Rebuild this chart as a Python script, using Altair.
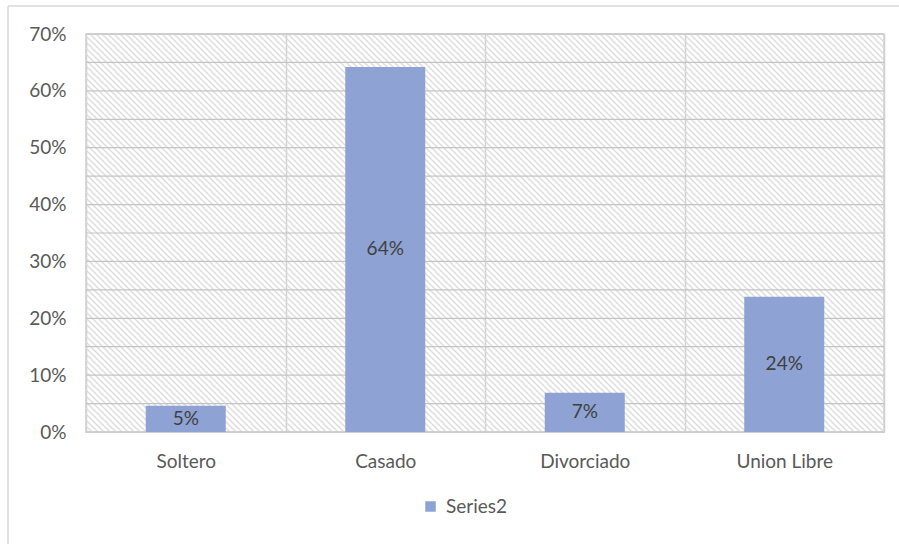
import altair as alt
import pandas as pd

# Marital status shares
categories = ["Soltero", "Casado", "Divorciado", "Union Libre"]
shares = [0.046, 0.642, 0.069, 0.238]
series_name = "Series2"

df = pd.DataFrame({"estado": categories, "valor": shares, "serie": [series_name] * 4})
df["mitad"] = df["valor"] / 2

W, H = 798, 398
FONT = "Lato"
FS = 19
TXT = "#595959"
BAR = "#8FA2D4"

x_scale = alt.Scale(paddingInner=0, paddingOuter=0)
x_axis = alt.Axis(
    labelAngle=0, labelFontSize=FS, labelColor=TXT, labelFont=FONT,
    labelPadding=20, ticks=False, domain=False,
    grid=True, tickBand="extent", gridColor="#d0d0d0", gridWidth=1.5,
)
y_scale = alt.Scale(domain=[0, 0.7], nice=False)
y_axis = alt.Axis(
    values=[i / 10 for i in range(8)], format=".0%",
    labelFontSize=FS, labelColor=TXT, labelFont=FONT,
    labelPadding=20, ticks=False, domain=False, grid=False,
)

# diagonal hatch across the plotting area
hatch = (
    alt.Chart(alt.sequence(-H, W + 6, 6, as_="k"))
    .transform_calculate(x1="datum.k", x2b=f"datum.k + {H}", y1="0", y2b=f"{H}")
    .mark_rule(color="#dcdcdc", strokeWidth=1.4, clip=True)
    .encode(
        x=alt.X("x1:Q", scale=None, axis=None),
        x2="x2b:Q",
        y=alt.Y("y1:Q", scale=None, axis=None),
        y2="y2b:Q",
    )
)

# horizontal gridlines every 5%
grid_vals = [i * 0.05 for i in range(15)]
grid = (
    alt.Chart(pd.DataFrame({"g": grid_vals}))
    .mark_rule(color="#c4c4c4", strokeWidth=1.2)
    .encode(y=alt.Y("g:Q", scale=y_scale, axis=y_axis, title=None))
)

bars = (
    alt.Chart(df)
    .mark_bar(size=80)
    .encode(
        x=alt.X("estado:N", sort=categories, title=None, scale=x_scale, axis=x_axis),
        y=alt.Y("valor:Q", scale=y_scale, title=None, axis=y_axis),
        color=alt.Color(
            "serie:N",
            scale=alt.Scale(range=[BAR]),
            legend=alt.Legend(
                title=None, orient="none", legendX=335, legendY=463,
                symbolType="square", symbolSize=110, symbolStrokeWidth=0,
                labelFontSize=FS, labelColor=TXT, labelFont=FONT, labelOffset=6,
            ),
        ),
    )
)

labels = (
    alt.Chart(df)
    .mark_text(fontSize=FS, color="#404040", font=FONT, baseline="middle")
    .encode(
        x=alt.X("estado:N", sort=categories, scale=x_scale, axis=x_axis, title=None),
        y=alt.Y("mitad:Q", scale=y_scale, axis=y_axis, title=None),
        text=alt.Text("valor:Q", format=".0%"),
    )
)

# outer chart frame edges (left and top)
frame_left = alt.Chart().mark_rule(color="#d9d9d9", strokeWidth=1.5).encode(
    x=alt.value(-78), y=alt.value(-28), y2=alt.value(H + 120)
)
frame_top = alt.Chart().mark_rule(color="#d9d9d9", strokeWidth=1.5).encode(
    y=alt.value(-28), x=alt.value(-78), x2=alt.value(W + 20)
)

main = alt.layer(grid, bars, labels).resolve_scale(x="shared", y="shared")

chart = (
    alt.layer(hatch, main, frame_left, frame_top)
    .resolve_scale(x="independent", y="independent")
    .properties(
        width=W, height=H,
        padding={"left": 86, "top": 34, "right": 15, "bottom": 112},
        autosize=alt.AutoSizeParams(type="none"),
        background="white",
    )
    .configure_view(stroke="#d0d0d0", strokeWidth=1.5)
)

chart.save("out.html", embed_options={"renderer": "svg", "actions": False})
